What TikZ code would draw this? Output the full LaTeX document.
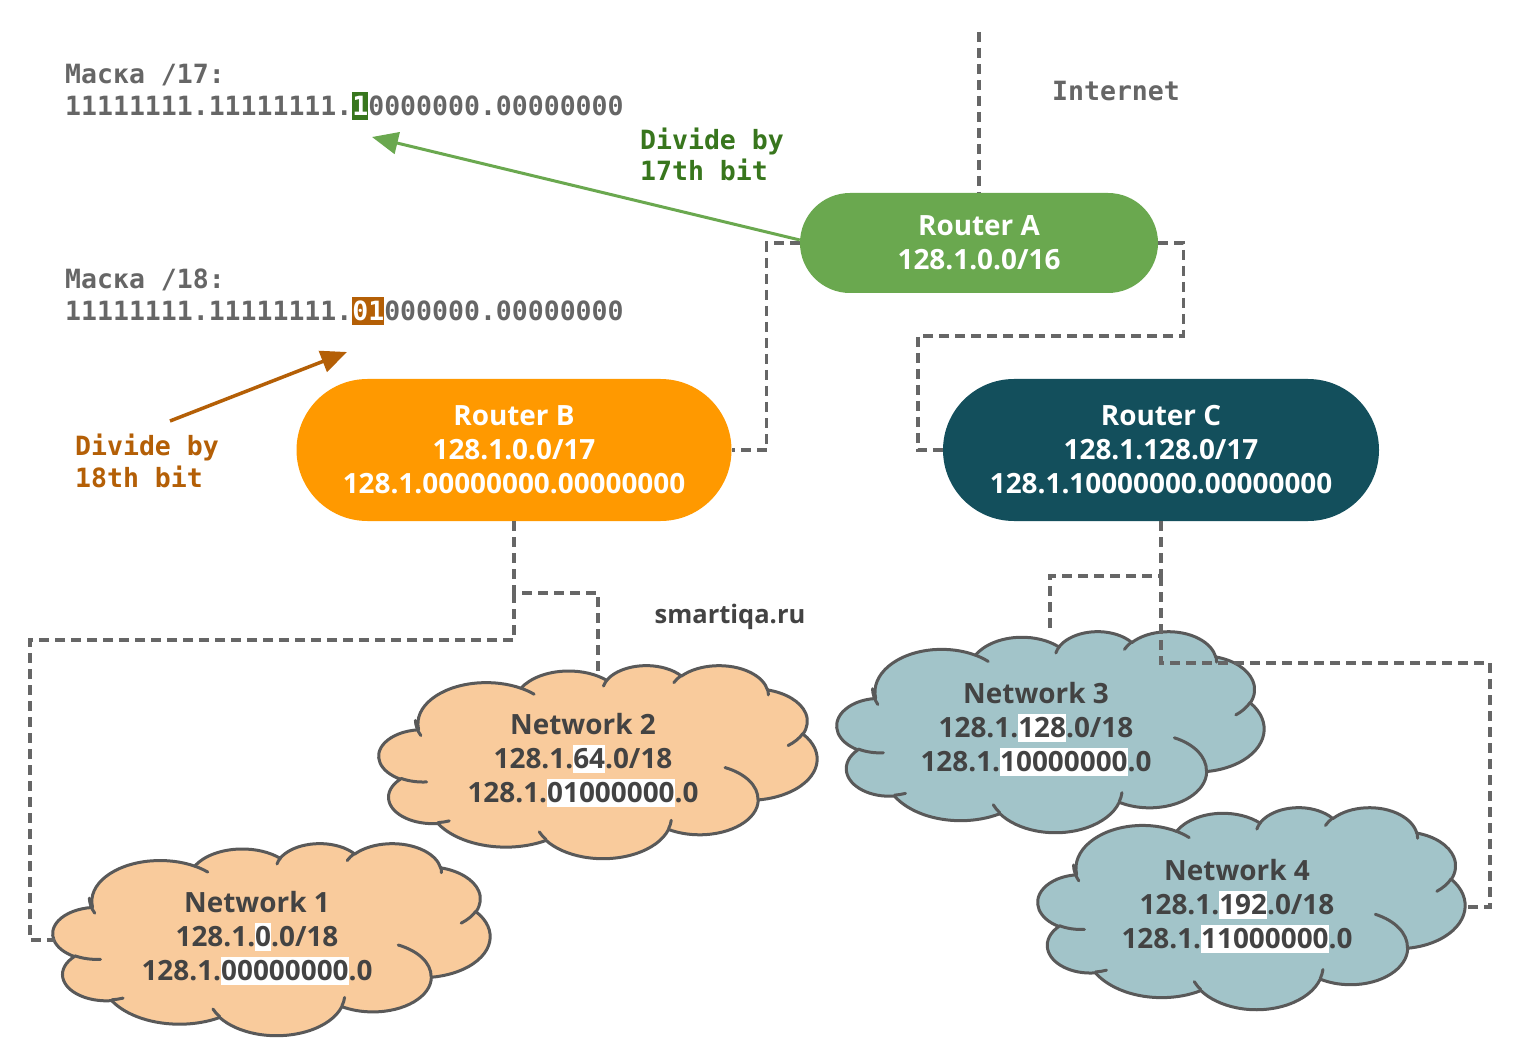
\documentclass[tikz,border=0pt]{standalone}
\usepackage{fontspec}
\setmainfont{Open Sans}
\newfontfamily\monof{DejaVu Sans Mono}
\usetikzlibrary{arrows.meta}
\definecolor{lineg}{HTML}{666666}
\definecolor{raf}{HTML}{6AA84F}
\definecolor{rbf}{HTML}{FF9900}
\definecolor{rcf}{HTML}{134F5C}
\definecolor{cor}{HTML}{F9CB9C}
\definecolor{cte}{HTML}{A2C4C9}
\definecolor{cline}{HTML}{595959}
\definecolor{ctext}{HTML}{434343}
\definecolor{dgreen}{HTML}{38761D}
\definecolor{dorange}{HTML}{B45F06}

% elliptical arc with DrawingML (visual) angles
\newcommand\oarc[4]{%
  \pgfmathsetmacro\oaS{atan2((#1)*sin(#3),(#2)*cos(#3))}%
  \pgfmathsetmacro\oaE{atan2((#1)*sin((#3)+(#4)),(#2)*cos((#3)+(#4)))}%
  \pgfmathsetmacro\oaD{mod(\oaE-\oaS+720,360)}%
  \pgfmathsetmacro\oaE{\oaS+\oaD}%
  \pgfpatharcaxes{\oaS}{\oaE}{\pgfpointxy{#1}{0}}{\pgfpointxy{0}{#2}}}
\newcommand\cloudoutline{%
 \pgfpathmoveto{\pgfpointxy{39.00}{143.70}}%
 \oarc{67.53}{91.90}{-190.48748}{123.78053}%
 \oarc{53.33}{72.67}{-144.10238}{89.94523}%
 \oarc{43.65}{59.45}{-145.80792}{99.72302}%
 \oarc{48.57}{65.95}{-130.98607}{117.24173}%
 \oarc{53.33}{72.73}{-78.70888}{109.02692}%
 \oarc{67.75}{92.20}{-46.26725}{130.26900}%
 \oarc{57.85}{78.67}{0.62502}{114.03333}%
 \oarc{67.52}{92.15}{22.45160}{115.17255}%
 \oarc{77.20}{105.43}{66.24263}{75.71102}%
 \oarc{43.60}{59.18}{-274.94208}{146.73557}%
 \oarc{43.45}{59.45}{-246.82850}{152.51885}%
 \pgfpathclose}
\newcommand\cloudcurls{%
 \pgfpathmoveto{\pgfpointxy{46.93}{261.77}}\oarc{43.45}{59.45}{86.742}{26.4295}%
 \pgfpathmoveto{\pgfpointxy{69.28}{348.99}}\oarc{43.60}{59.18}{73.61047}{11.44747}%
 \pgfpathmoveto{\pgfpointxy{164.78}{390.90}}\oarc{67.52}{92.15}{137.62415}{14.0811}%
 \pgfpathmoveto{\pgfpointxy{288.27}{347.51}}\oarc{67.52}{92.15}{6.45327}{15.99835}%
 \pgfpathmoveto{\pgfpointxy{341.29}{229.54}}\oarc{57.85}{78.67}{-70.29235}{70.91737}%
 \pgfpathmoveto{\pgfpointxy{417.98}{153.54}}\oarc{53.33}{72.73}{30.31803}{27.7515}%
 \pgfpathmoveto{\pgfpointxy{383.24}{54.26}}\oarc{48.57}{65.95}{-13.74433}{14.8589}%
 \pgfpathmoveto{\pgfpointxy{290.78}{39.52}}\oarc{48.57}{65.95}{-149.18145}{18.19537}%
 \pgfpathmoveto{\pgfpointxy{221.41}{47.20}}\oarc{43.65}{59.45}{-163.49427}{17.68635}%
 \pgfpathmoveto{\pgfpointxy{140.00}{51.92}}\oarc{67.53}{91.90}{-66.70695}{12.31935}%
 \pgfpathmoveto{\pgfpointxy{41.27}{157.89}}\oarc{67.53}{91.90}{150}{28.33333}}
\newcommand\drawcloud[5]{%
  \pgfmathsetmacro\cwx{#3/432}%
  \pgfmathsetmacro\chy{#4/432}%
  \begin{scope}[shift={(#1,#2)},x=\cwx pt,y=-\chy pt]
    \pgfsetfillcolor{#5}\pgfsetstrokecolor{cline}\pgfsetlinewidth{3pt}%
    \pgfsetroundjoin\pgfsetroundcap
    \cloudoutline\pgfusepath{fill,stroke}%
    \cloudcurls\pgfusepath{stroke}%
  \end{scope}}
\newcommand\hlc[1]{{\setlength\fboxsep{0pt}\colorbox{white}{\rule[-0.18em]{0pt}{1.0em}#1}}}
\newcommand\hlm[2]{{\setlength\fboxsep{0pt}\colorbox{#1}{\rule[-0.15em]{0pt}{1.06em}\textcolor{white}{#2}}}}

\tikzset{
  router/.style={rectangle, text=white, font=\bfseries\fontsize{27.9}{34}\selectfont,
    align=center, inner sep=0pt},
  cloudtext/.style={text=ctext, font=\bfseries\fontsize{27.9}{34}\selectfont,
    align=center, inner sep=0pt},
  mono/.style={font=\monof\bfseries\fontsize{26.5}{31}\selectfont, anchor=base west,
    inner sep=0pt},
  conn/.style={draw=lineg, line width=3.2pt, dash pattern=on 10pt off 6pt},
}

\begin{document}
\begin{tikzpicture}[x=1pt,y=-1pt]
\useasboundingbox[fill=white] (0,0) rectangle (1534,1056);

% mask texts
\node[mono, text=lineg] (m17a) at (65,84) {Маска /17:};
\node[mono, text=lineg] (m17b) at (65,116) {11111111.11111111.\hlm{dgreen}{1}0000000.00000000};
\node[mono, text=lineg] (m18a) at (65,289) {Маска /18:};
\node[mono, text=lineg] (m18b) at (65,321) {11111111.11111111.\hlm{dorange}{01}000000.00000000};
\node[mono, text=lineg] (inettxt) at (1052,101) {Internet};
\node[mono, text=dgreen] (d17a) at (640,150) {Divide by};
\node[mono, text=dgreen] (d17b) at (640,181) {17th bit};
\node[mono, text=dorange] (d18a) at (75,455) {Divide by};
\node[mono, text=dorange] (d18b) at (75,487) {18th bit};

% clouds
\drawcloud{53}{843}{437}{192}{cor}
\drawcloud{379}{665}{438}{193}{cor}
\drawcloud{837}{631}{427}{201}{cte}
\drawcloud{1038}{807}{427}{202}{cte}

\node[cloudtext] (n1) at (257,938) {Network 1\\128.1.\hlc{0}.0/18\\128.1.\hlc{00000000}.0};
\node[cloudtext] (n2) at (583,760) {Network 2\\128.1.\hlc{64}.0/18\\128.1.\hlc{01000000}.0};
\node[cloudtext] (n3) at (1036,729) {Network 3\\128.1.\hlc{128}.0/18\\128.1.\hlc{10000000}.0};
\node[cloudtext] (n4) at (1237,906) {Network 4\\128.1.\hlc{192}.0/18\\128.1.\hlc{11000000}.0};

\node[text=ctext, font=\bfseries\fontsize{25.5}{30}\selectfont, inner sep=0pt] (site) at (730,617) {smartiqa.ru};

% routers
\node[router, fill=raf, minimum width=358pt, minimum height=100pt, rounded corners=50pt] (ra) at (979,243) {Router A\\128.1.0.0/16};
\node[router, fill=rbf, minimum width=435pt, minimum height=142pt, rounded corners=71pt] (rb) at (514,450) {Router B\\128.1.0.0/17\\128.1.00000000.00000000};
\node[router, fill=rcf, minimum width=436pt, minimum height=142pt, rounded corners=71pt] (rc) at (1161,450) {Router C\\128.1.128.0/17\\128.1.10000000.00000000};

% connector end points
\coordinate (inet) at (979,32);
\coordinate (n1w) at (55,940);
\coordinate (n2n) at (598,676);
\coordinate (n3n) at (1050,633);
\coordinate (n4e) at (1465,907);
\coordinate (bj) at (514,593);
\coordinate (cj) at (1161,576);

\draw[conn] (inet) -- (ra.north);
\draw[conn] (ra.west) -- ++(-33,0) |- (rb.east);
\draw[conn] (ra.east) -- ++(25,0) |- (918,336) |- (rc.west);
\draw[conn] (rb.south) -- (bj) -| (n2n);
\draw[conn] (bj) |- (30,640) |- (n1w);
\draw[conn] (rc.south) -- (cj) -| (n3n);
\draw[conn] (cj) |- (1490,663) |- (n4e);

% arrows
\coordinate (g17) at (372,137);
\coordinate (o18s) at (170,421);
\coordinate (o18e) at (347,352);
\draw[raf, line width=3pt, -{Triangle[length=26pt,width=22pt]}] ([yshift=3pt]ra.west) -- (g17);
\draw[dorange, line width=3.5pt, -{Triangle[length=26pt,width=22pt]}] (o18s) -- (o18e);
\end{tikzpicture}
\end{document}
